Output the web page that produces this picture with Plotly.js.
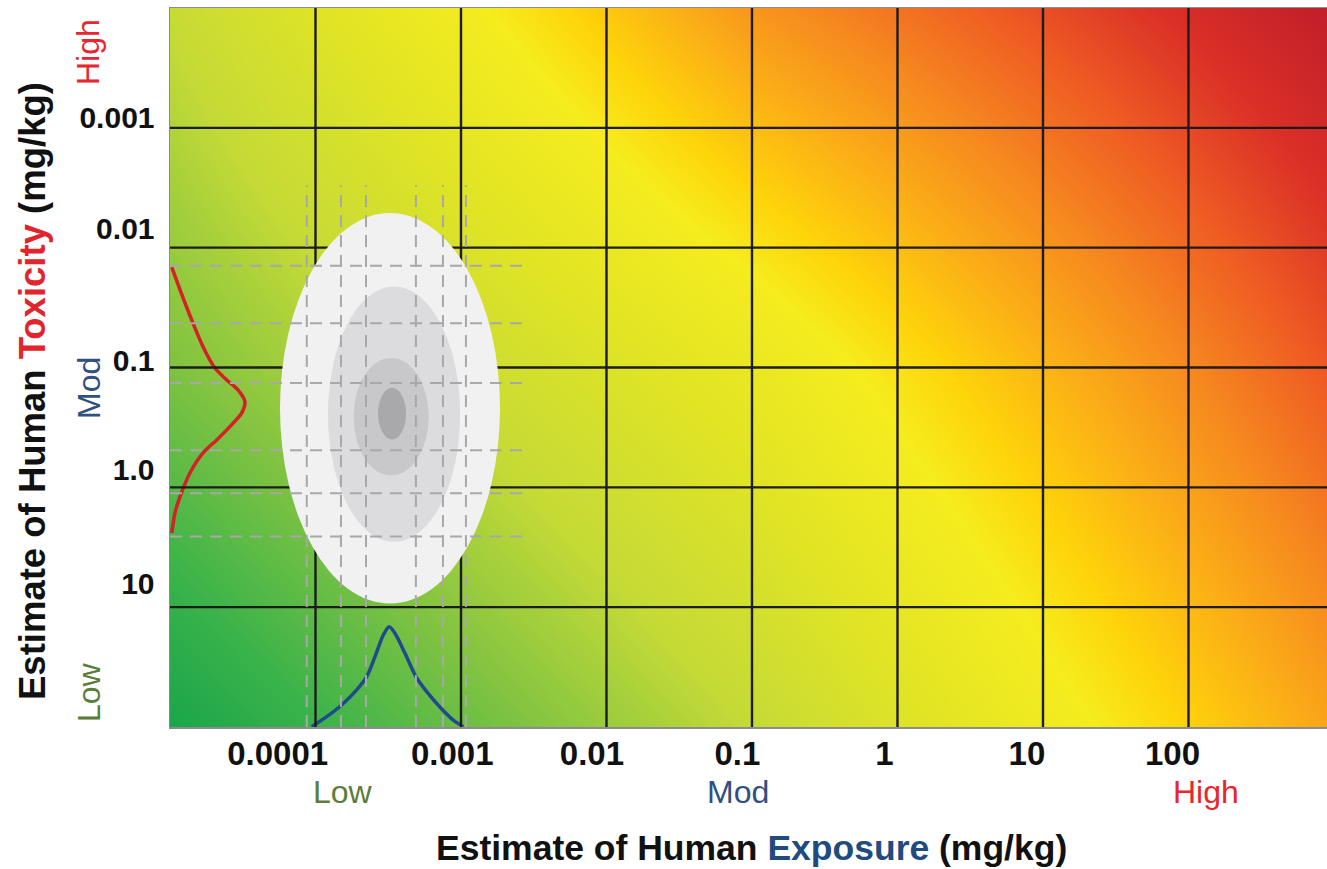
<!DOCTYPE html>
<html>
<head>
<meta charset="utf-8">
<script src="https://cdn.plot.ly/plotly-3.0.1.min.js"></script>
<style>
  html, body { margin: 0; padding: 0; background: #ffffff; }
  #chart { width: 1327px; height: 869px; }
</style>
</head>
<body>
<div id="chart"></div>
<script>
// ---------- data ----------
// tick labels (decades of mg/kg) and where they sit on the decade-index axes
const xTickLabels = ['0.0001', '0.001', '0.01', '0.1', '1', '10', '100'];
const xTickPos    = [0.74, 1.94, 2.90, 3.90, 4.91, 5.89, 6.89];
const yTickLabels = ['10', '1.0', '0.1', '0.01', '0.001'];
const yTickPos    = [1.20, 2.15, 3.06, 4.16, 5.09];

// solid grid (decade boundaries)
const gridX = [1, 2, 3, 4, 5, 6, 7];
const gridY = [1, 2, 3, 4, 5];

// background risk gradient (risk level at nodes)
const bgX = [0, 3.976, 7.952];
const bgY = [0, 3, 6];
const bgZ = [
  [0.00, 0.30, 0.70],
  [0.18, 0.47, 0.85],
  [0.31, 0.73, 1.00]
];

// exposure distribution (bottom, blue)
const expCurveX = [0.974, 1.077, 1.18, 1.283, 1.352, 1.409, 1.466, 1.507, 1.546, 1.615, 1.69, 1.764, 1.874, 1.947, 2.016];
const expCurveY = [0.003, 0.086, 0.184, 0.309, 0.42, 0.587, 0.768, 0.837, 0.782, 0.615, 0.42, 0.295, 0.142, 0.058, 0.003];

// toxicity distribution (left, red)
const toxCurveX = [0.012, 0.069, 0.149, 0.227, 0.309, 0.39, 0.467, 0.515, 0.493, 0.412, 0.321, 0.227, 0.137, 0.069, 0.034, 0.012];
const toxCurveY = [3.837, 3.648, 3.397, 3.174, 2.996, 2.896, 2.813, 2.715, 2.621, 2.507, 2.396, 2.287, 2.12, 1.923, 1.786, 1.619];

// dashed reference lines (percentiles)
const dashX = [0.94, 1.175, 1.347, 1.69, 1.876, 2.034];
const dashY = [3.85, 3.37, 2.87, 2.31, 1.95, 1.59];
const dashXTop = 4.52;
const dashYRight = 2.43;

// joint distribution contours
const ellCx = [1.512, 1.54, 1.52, 1.526];
const ellCy = [2.66, 2.61, 2.59, 2.615];
const ellRx = [0.756, 0.454, 0.258, 0.096];
const ellRy = [1.63, 1.065, 0.49, 0.215];
const ellColor = ['#f1f1f2', '#dcdcde', '#c8c8ca', '#a9a9ab'];

// ---------- figure ----------
const FONT = 'Liberation Sans, Arial, Helvetica, sans-serif';
const X_MAX = 7.952, Y_MAX = 6;

const traces = [
  {
    type: 'heatmap',
    x: bgX, y: bgY, z: bgZ,
    zsmooth: 'best',
    zmin: 0, zmax: 1,
    showscale: false,
    hoverinfo: 'skip',
    colorscale: [
      [0.00, '#1aa54b'],
      [0.08, '#3bb34a'],
      [0.18, '#7dc242'],
      [0.30, '#c5da36'],
      [0.42, '#e0e425'],
      [0.54, '#f6ec1e'],
      [0.60, '#fed40a'],
      [0.68, '#fbae17'],
      [0.76, '#f6881f'],
      [0.84, '#ef5d23'],
      [0.92, '#db3027'],
      [1.00, '#c21e2a']
    ]
  },
  {
    type: 'scatter', mode: 'lines',
    x: expCurveX, y: expCurveY,
    line: { color: '#1f4a8e', width: 3.5, shape: 'spline', smoothing: 0.8 },
    hoverinfo: 'skip'
  },
  {
    type: 'scatter', mode: 'lines',
    x: toxCurveX, y: toxCurveY,
    line: { color: '#d42027', width: 3.5, shape: 'spline', smoothing: 0.8 },
    hoverinfo: 'skip'
  }
];

const shapes = [];
gridX.forEach(v => shapes.push({
  type: 'line', xref: 'x', yref: 'y', x0: v, x1: v, y0: 0, y1: Y_MAX,
  line: { color: '#1c1c1c', width: 2.4 }, layer: 'above'
}));
gridY.forEach(v => shapes.push({
  type: 'line', xref: 'x', yref: 'y', x0: 0, x1: X_MAX, y0: v, y1: v,
  line: { color: '#1c1c1c', width: 2.4 }, layer: 'above'
}));
ellCx.forEach((cx, i) => shapes.push({
  type: 'circle', xref: 'x', yref: 'y',
  x0: cx - ellRx[i], x1: cx + ellRx[i], y0: ellCy[i] - ellRy[i], y1: ellCy[i] + ellRy[i],
  fillcolor: ellColor[i], line: { width: 0 }, layer: 'above'
}));
dashX.forEach(v => shapes.push({
  type: 'line', xref: 'x', yref: 'y', x0: v, x1: v, y0: 0, y1: dashXTop,
  line: { color: '#a8a8a8', width: 2, dash: '12px,8px' }, layer: 'above'
}));
dashY.forEach(v => shapes.push({
  type: 'line', xref: 'x', yref: 'y', x0: 0, x1: dashYRight, y0: v, y1: v,
  line: { color: '#a8a8a8', width: 2, dash: '12px,8px' }, layer: 'above'
}));

const L = 170, T = 8, PW = 1157, PH = 719;
const px = v => (v - L) / PW;
const py = v => (T + PH - v) / PH;

const annotations = [
  { text: '<b>Estimate of Human <span style="color:#1f4b7e">Exposure</span> (mg/kg)</b>',
    x: px(751), y: py(848), font: { size: 35.5, color: '#111111', family: FONT } },
  { text: '<b>Estimate of Human <span style="color:#e0262c">Toxicity</span> (mg/kg)</b>',
    x: px(32), y: py(391), textangle: -90, font: { size: 36.5, color: '#111111', family: FONT } },
  { text: 'Low',  x: px(343),  y: py(792), font: { size: 32, color: '#5b7d3a', family: FONT } },
  { text: 'Mod',  x: px(738),  y: py(792), font: { size: 32, color: '#2f5080', family: FONT } },
  { text: 'High', x: px(1206), y: py(792), font: { size: 32, color: '#e8262d', family: FONT } },
  { text: 'High', x: px(88), y: py(52),  textangle: -90, font: { size: 32, color: '#e8262d', family: FONT } },
  { text: 'Mod',  x: px(89), y: py(388), textangle: -90, font: { size: 32, color: '#2f5080', family: FONT } },
  { text: 'Low',  x: px(89), y: py(692), textangle: -90, font: { size: 32, color: '#5b7d3a', family: FONT } }
].map(a => Object.assign({ xref: 'paper', yref: 'paper', showarrow: false,
                           xanchor: 'center', yanchor: 'middle' }, a));

const layout = {
  width: 1327, height: 869,
  margin: { l: L, r: 0, t: T, b: 869 - T - PH, pad: 0 },
  paper_bgcolor: '#ffffff',
  plot_bgcolor: '#ffffff',
  showlegend: false,
  xaxis: {
    range: [0, X_MAX], fixedrange: true,
    showgrid: false, zeroline: false,
    tickmode: 'array', tickvals: xTickPos, ticktext: xTickLabels,
    ticks: '', ticklabelstandoff: -3,
    tickfont: { family: FONT, size: 33, color: '#111111', weight: 'bold' },
    showline: true, linecolor: '#8c8c8c', linewidth: 1.5, mirror: true
  },
  yaxis: {
    range: [0, Y_MAX], fixedrange: true,
    showgrid: false, zeroline: false,
    tickmode: 'array', tickvals: yTickPos, ticktext: yTickLabels,
    ticks: 'outside', ticklen: 8, tickcolor: 'rgba(0,0,0,0)',
    tickfont: { family: FONT, size: 30, color: '#111111', weight: 'bold' },
    showline: true, linecolor: '#8c8c8c', linewidth: 1.5
  },
  shapes: shapes,
  annotations: annotations
};

Plotly.newPlot('chart', traces, layout, { displayModeBar: false, staticPlot: true });
</script>
</body>
</html>
